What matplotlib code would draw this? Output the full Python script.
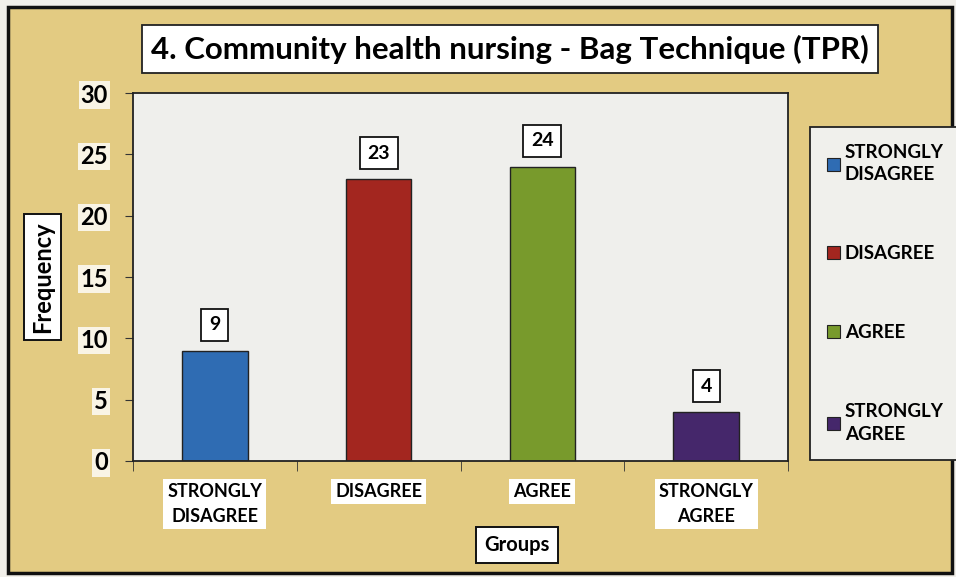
import matplotlib.pyplot as plt
from matplotlib.patches import Rectangle, Patch

plt.rcParams['font.family'] = ['Lato', 'DejaVu Sans']
plt.rcParams['font.weight'] = 'bold'

groups = ['STRONGLY\nDISAGREE', 'DISAGREE', 'AGREE', 'STRONGLY\nAGREE']
legend_labels = ['STRONGLY\nDISAGREE', 'DISAGREE', 'AGREE', 'STRONGLY\nAGREE']
frequency = [9, 23, 24, 4]
bar_colors = ['#2f6cb3', '#a3261f', '#789a2c', '#45276b']
yticks = [0, 5, 10, 15, 20, 25, 30]

title = '4. Community health nursing - Bag Technique (TPR)'

fig = plt.figure(figsize=(9.56, 5.77), dpi=100)
fig.patch.set_facecolor('#f1efea')

# parchment panel with black frame, on its own background axes
bg = fig.add_axes([0, 0, 1, 1], zorder=0)
bg.set_xlim(0, 1)
bg.set_ylim(0, 1)
bg.axis('off')
bg.add_patch(Rectangle((8 / 956, 4 / 577), 944 / 956, 566 / 577,
                       facecolor='#e3cb82', edgecolor='#111111', linewidth=2.5))

ax = fig.add_axes([133 / 956, 1 - 461 / 577, 655 / 956, 368 / 577], zorder=1)
ax.set_facecolor('#efefec')

x = list(range(len(groups)))
bars = ax.bar(x, frequency, width=0.4, color=bar_colors,
              edgecolor='#222222', linewidth=1)

for b, v in zip(bars, frequency):
    ax.text(b.get_x() + b.get_width() / 2, v + 2.1, str(v),
            ha='center', va='center', fontsize=14, fontweight='bold',
            bbox=dict(boxstyle='square,pad=0.4', facecolor='white',
                      edgecolor='#111111', linewidth=1.3))

ax.set_xlim(-0.5, 3.5)
ax.set_ylim(0, 30)
ax.set_yticks(yticks)
ax.set_yticklabels([str(t) for t in yticks], fontsize=17, fontweight='bold')
ax.set_xticks(x)
ax.set_xticklabels(groups, fontsize=13, fontweight='bold', linespacing=1.55)
ax.set_xticks([-0.5, 0.5, 1.5, 2.5, 3.5], minor=True)
ax.tick_params(axis='x', which='major', length=0, pad=16)
ax.tick_params(axis='x', which='minor', length=7, color='#333333')
ax.tick_params(axis='y', length=6, pad=12, color='#333333')
for lab in ax.get_yticklabels():
    lab.set_bbox(dict(facecolor='white', edgecolor='none', pad=1.5, alpha=0.8))
for lab in ax.get_xticklabels():
    lab.set_bbox(dict(facecolor='white', edgecolor='none', pad=3))

for side in ['top', 'right', 'bottom', 'left']:
    ax.spines[side].set_color('#222222')
    ax.spines[side].set_linewidth(1.3)

ax.set_xlabel('Groups', fontsize=14.5, fontweight='bold',
              bbox=dict(boxstyle='square,pad=0.4', facecolor='white',
                        edgecolor='#111111', linewidth=1.4))
ax.xaxis.set_label_coords(0.586, -0.2)
ax.set_ylabel('Frequency', fontsize=17, fontweight='bold',
              bbox=dict(boxstyle='square,pad=0.3', facecolor='white',
                        edgecolor='#111111', linewidth=1.4))
ax.yaxis.set_label_coords(-0.12, 0.5)

fig.text(510 / 956, 1 - 49 / 577, title, ha='center', va='center',
         fontsize=22.5, fontweight='bold', zorder=3,
         bbox=dict(boxstyle='square,pad=0.3', facecolor='white',
                   edgecolor='#222222', linewidth=1.3))

handles = [Patch(facecolor=c, edgecolor='#222222', linewidth=0.8) for c in bar_colors]
leg = ax.legend(handles, legend_labels, loc='upper left',
                bbox_to_anchor=(810 / 956, 1 - 127 / 577),
                bbox_transform=fig.transFigure, fontsize=13.5,
                frameon=True, fancybox=False, edgecolor='#222222',
                facecolor='#f0f0ec', framealpha=1, labelspacing=3.3,
                handlelength=0.7, handleheight=0.7, handletextpad=0.25,
                borderpad=0.9, borderaxespad=0)
leg.get_frame().set_linewidth(1.3)
for t in leg.get_texts():
    t.set_linespacing(1.4)

fig.savefig('out.png', dpi=100, facecolor=fig.get_facecolor())
